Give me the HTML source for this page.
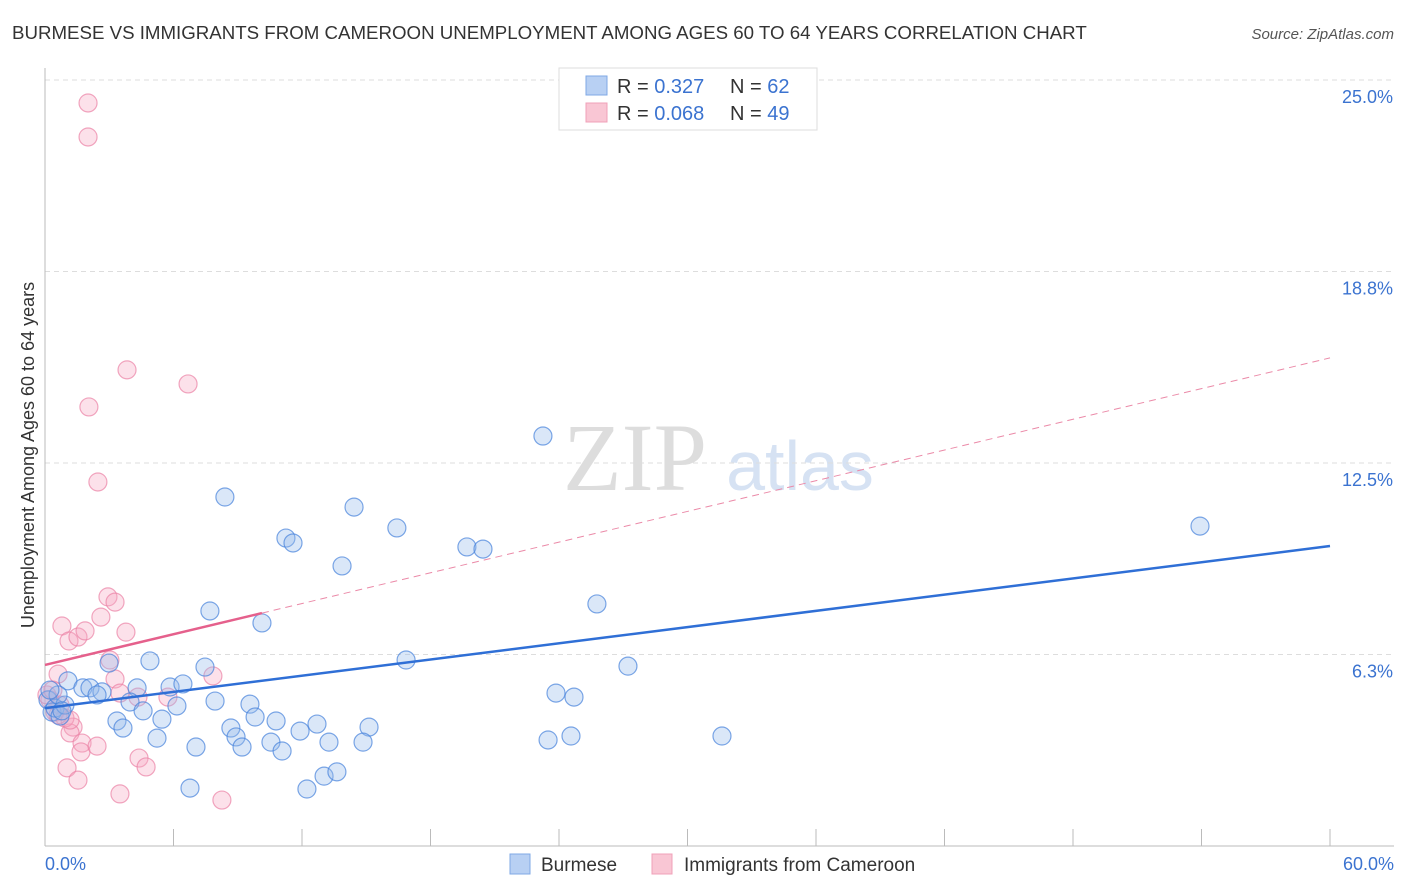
<!DOCTYPE html>
<html><head><meta charset="utf-8"><style>
body{margin:0;background:#fff;font-family:"Liberation Sans",sans-serif;}
svg{display:block}
</style></head><body>
<svg id="chart" width="1406" height="892">
<text x="12" y="39" font-size="18.7" fill="#333">BURMESE VS IMMIGRANTS FROM CAMEROON UNEMPLOYMENT AMONG AGES 60 TO 64 YEARS CORRELATION CHART</text>
<text x="1394" y="39" font-size="15" fill="#555" font-style="italic" text-anchor="end">Source: ZipAtlas.com</text>
<text x="635" y="490" font-size="96" fill="#ddd" font-family="Liberation Serif,serif" text-anchor="middle">ZIP</text>
<text x="800" y="490" font-size="70" fill="#d6e2f3" text-anchor="middle">atlas</text>
<text transform="translate(34,455) rotate(-90)" font-size="18" fill="#333" text-anchor="middle">Unemployment Among Ages 60 to 64 years</text>
<g id="grid"></g><g id="marks"></g>
<g>
<rect x="559" y="68" width="258" height="62" fill="#fff" stroke="#ddd"/>
<rect x="586" y="76" width="21" height="19" fill="#b8d0f3" stroke="#7fa8e6"/>
<rect x="586" y="103" width="21" height="19" fill="#f9c6d4" stroke="#f0a0b8"/>
<text x="617" y="93" font-size="20" fill="#333">R = <tspan fill="#3b73d0">0.327</tspan><tspan x="730">N = </tspan><tspan fill="#3b73d0">62</tspan></text>
<text x="617" y="120" font-size="20" fill="#333">R = <tspan fill="#3b73d0">0.068</tspan><tspan x="730">N = </tspan><tspan fill="#3b73d0">49</tspan></text>
</g>
<g>
<rect x="510" y="854" width="20" height="20" fill="#b8d0f3" stroke="#7fa8e6"/>
<text x="541" y="871" font-size="19" fill="#333">Burmese</text>
<rect x="652" y="854" width="20" height="20" fill="#f9c6d4" stroke="#f0a0b8"/>
<text x="684" y="871" font-size="19" fill="#333">Immigrants from Cameroon</text>
</g>
</svg>
<script>
const yTicks=[25.0,18.8,12.5,6.3];
const yTickVals=[25,18.75,12.5,6.25];
const xTickLabels=["0.0%","60.0%"];
const blueX=[7.70,10.13,16.86,4.90,2.99,7.47,1.07,1.77,2.10,2.66,2.43,4.30,5.84,6.44,3.97,6.16,7.94,9.57,4.58,9.81,10.79,3.36,3.64,5.46,8.68,8.92,9.20,11.91,12.70,15.13,14.85,13.26,10.55,11.07,5.23,7.05,6.77,12.23,13.03,13.63,23.25,8.40,14.43,16.43,11.25,11.58,19.70,20.45,13.87,53.93,25.77,27.22,23.86,24.70,23.49,24.56,31.61,0.14,0.33,0.47,0.70,0.93,0.61,0.23,0.79];
const blueY=[7.67,7.28,6.07,6.04,5.97,5.84,5.39,5.16,5.16,5.03,4.93,5.16,5.19,5.29,4.70,4.57,4.73,4.63,4.41,4.21,4.08,4.08,3.85,4.14,3.85,3.56,3.23,3.75,3.98,3.88,3.39,3.39,3.39,3.10,3.52,3.23,1.89,1.86,2.28,2.42,13.38,11.39,11.06,10.38,10.05,9.89,9.76,9.69,9.14,10.44,7.90,5.87,4.99,4.86,3.46,3.59,3.59,4.77,4.37,4.50,4.24,4.60,4.93,5.09,4.41];
const pinkX=[2.94,3.27,2.61,0.79,1.12,1.54,1.87,3.78,3.03,0.61,3.27,3.50,7.84,5.74,4.34,1.31,1.17,1.73,1.68,2.43,4.39,4.72,1.03,1.54,3.50,8.26,2.01,2.01,3.83,6.68,2.05,2.47,0.23,0.47,0.70,0.09,0.93,0.37,1.17,0.61];
const pinkY=[8.13,7.96,7.47,7.18,6.69,6.82,7.02,6.98,6.07,5.61,5.45,4.99,5.55,4.86,4.86,3.88,3.69,3.36,3.07,3.26,2.87,2.58,2.55,2.15,1.70,1.50,24.25,23.14,15.54,15.08,14.33,11.88,4.77,4.37,4.60,4.93,4.18,5.09,4.11,4.28];
const blueTrend=[4.50,9.79];
const pinkTrend=[5.91,15.93];
const pinkSolidEnd=10.13;
const NS="http://www.w3.org/2000/svg";
const X=v=>45+v/60*1285, Y=v=>846-v/6.25*191.5;
function mk(t,a,p){const e=document.createElementNS(NS,t);for(const k in a)e.setAttribute(k,a[k]);p.appendChild(e);return e;}
const g=document.getElementById('grid'),m=document.getElementById('marks');
yTickVals.forEach((v,i)=>{
 const l=mk('line',{x1:45,x2:1394,y1:Y(v),y2:Y(v),stroke:'#ddd','stroke-dasharray':'5,4'},g);
 
 
 const t=mk('text',{x:1393,y:Y(v)+23,'font-size':18,fill:'#3b73d0','text-anchor':'end'},g);t.textContent=yTicks[i].toFixed(1)+'%';
 
 
});
const ax=mk('line',{x1:45,x2:1394,y1:846,y2:846,stroke:'#bbb'},g);


const ay=mk('line',{x1:45,x2:45,y1:68,y2:846,stroke:'#bbb'},g);


for(let i=1;i<=10;i++){const tk=mk('line',{x1:X(i*6),x2:X(i*6),y1:829,y2:846,stroke:'#bbb'},g);
 
 }
[[0,'start',45],[60,'end',1394]].forEach((d,i)=>{const t=mk('text',{x:d[2],y:870,'font-size':18,fill:'#3b73d0','text-anchor':d[1]},g);t.textContent=xTickLabels[i];
 
 });
function dots(xs,ys,fill,stroke,name){xs.forEach((x,i)=>{const c=mk('circle',{cx:X(x),cy:Y(ys[i]),r:9,fill:fill,stroke:stroke,'stroke-width':1.2},m);
 
 });}
dots(pinkX,pinkY,'rgba(245,170,195,0.35)','rgba(235,130,165,0.7)','cameroon-point');
dots(blueX,blueY,'rgba(150,185,235,0.35)','rgba(70,130,220,0.7)','burmese-point');
const bt=mk('line',{x1:X(0),y1:Y(blueTrend[0]),x2:X(60),y2:Y(blueTrend[1]),stroke:'#2f6fd6','stroke-width':2.5},m);


const py=v=>pinkTrend[0]+(pinkTrend[1]-pinkTrend[0])*v/60;
const pd=mk('line',{x1:X(pinkSolidEnd),y1:Y(py(pinkSolidEnd)),x2:X(60),y2:Y(pinkTrend[1]),stroke:'#eb8aa8','stroke-width':1,'stroke-dasharray':'7,5'},m);


const ps=mk('line',{x1:X(0),y1:Y(pinkTrend[0]),x2:X(pinkSolidEnd),y2:Y(py(pinkSolidEnd)),stroke:'#e5608c','stroke-width':2.5},m);


</script>
</body></html>
